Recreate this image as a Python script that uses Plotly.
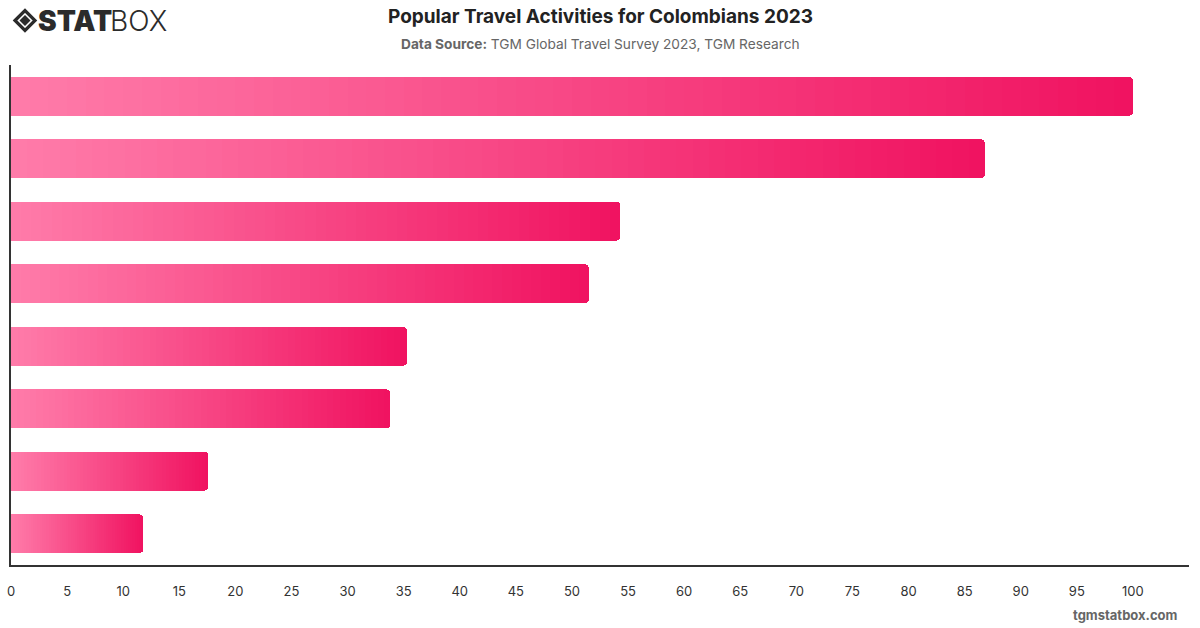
import plotly.graph_objects as go

# ---- data ----
categories = ["Activity A", "Activity B", "Activity C", "Activity D",
              "Activity E", "Activity F", "Activity G", "Activity H"]
values = [100, 86.8, 54.3, 51.5, 35.3, 33.8, 17.6, 11.8]
x_ticks = list(range(0, 101, 5))

title_text = "Popular Travel Activities for Colombians 2023"
source_label = "Data Source:"
source_text = "TGM Global Travel Survey 2023, TGM Research"
footer_text = "tgmstatbox.com"

# ---- style ----
c_start = (255, 124, 170)
c_end = (240, 18, 96)
N_SEG = 60
FONT = "Inter"

fig = go.Figure()
for k in range(N_SEG):
    t = (k + 0.5) / N_SEG
    col = "rgb({},{},{})".format(*[round(a + (b - a) * t) for a, b in zip(c_start, c_end)])
    fig.add_trace(go.Bar(
        y=categories,
        x=[v / N_SEG for v in values],
        orientation="h",
        marker=dict(color=col, line=dict(width=0)),
        showlegend=False,
        hoverinfo="skip",
    ))

W, H = 1200, 628
ml, mr, mt, mb = 11, 11, 65, 63
pw, ph = W - ml - mr, H - mt - mb

def px(x):
    return (x - ml) / pw

def py(y):
    return 1 - (y - mt) / ph

# logo icon (diamond outline + inner diamond)
cx, cy = 25, 20.5
shapes = []
for r, filled in [(10, False), (5.5, True)]:
    path = "M {} {} L {} {} L {} {} L {} {} Z".format(
        px(cx - r), py(cy), px(cx), py(cy - r), px(cx + r), py(cy), px(cx), py(cy + r))
    shapes.append(dict(type="path", xref="paper", yref="paper", path=path,
                       line=dict(color="#2b2b2b", width=0 if filled else 3.2),
                       fillcolor="#2b2b2b" if filled else "rgba(0,0,0,0)"))

annotations = [
    dict(text=title_text, xref="paper", yref="paper",
         x=px(600), y=py(17), xanchor="center", yanchor="middle", showarrow=False,
         font=dict(family=FONT, size=19, color="#222222", weight=700)),
    dict(text="<b>" + source_label + "</b> " + source_text, xref="paper", yref="paper",
         x=px(600), y=py(44), xanchor="center", yanchor="middle", showarrow=False,
         font=dict(family=FONT, size=13.7, color="#666666")),
    dict(text=footer_text, xref="paper", yref="paper",
         x=px(1180), y=py(615), xanchor="right", yanchor="middle", showarrow=False,
         font=dict(family=FONT, size=13, color="#666666", weight=700)),
    dict(text="STAT", xref="paper", yref="paper",
         x=px(36), y=py(21), xanchor="left", yanchor="middle", showarrow=False,
         font=dict(family=FONT, size=28, color="#2b2b2b", weight=900)),
    dict(text="BOX", xref="paper", yref="paper",
         x=px(108), y=py(21), xanchor="left", yanchor="middle", showarrow=False,
         font=dict(family=FONT, size=28, color="#2b2b2b", weight=300)),
]

fig.update_layout(
    width=W, height=H,
    margin=dict(l=ml, r=mr, t=mt, b=mb, autoexpand=False),
    paper_bgcolor="white", plot_bgcolor="white",
    barmode="stack", bargap=0.38, barcornerradius=4,
    font=dict(family=FONT, color="#333333"),
    shapes=shapes, annotations=annotations,
    xaxis=dict(range=[0, 105], tickvals=x_ticks, showgrid=False, zeroline=False,
               showline=True, linecolor="#333333", linewidth=1.5, ticks="",
               automargin=False,
               ticklabelstandoff=14, tickfont=dict(size=13, color="#333333")),
    yaxis=dict(categoryorder="array", categoryarray=categories, autorange="reversed",
               showgrid=False, zeroline=False, showline=True, linecolor="#333333",
               linewidth=1.5, showticklabels=False, ticks="", automargin=False),
)

fig.write_html("out.html")
